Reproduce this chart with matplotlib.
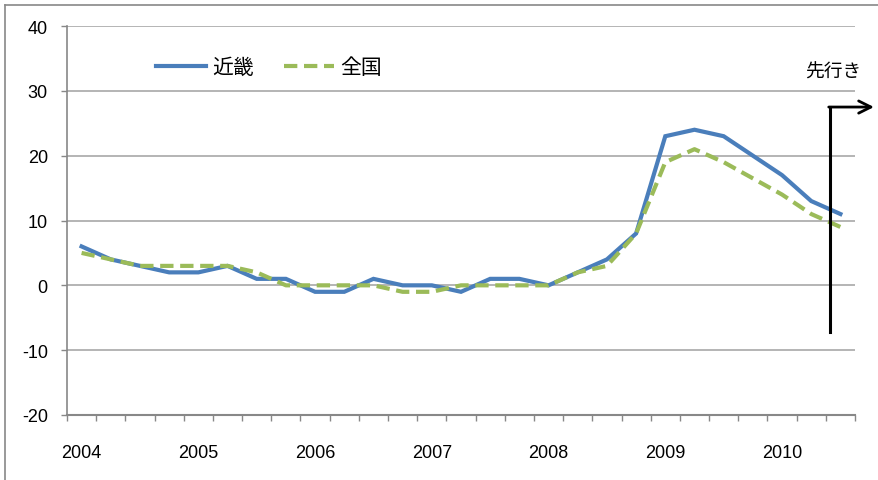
import matplotlib
matplotlib.use("Agg")
import matplotlib.pyplot as plt
from matplotlib.lines import Line2D
import numpy as np

plt.rcParams['font.family'] = ['Liberation Sans', 'Noto Sans CJK JP', 'DejaVu Sans']

# Quarterly data 2004Q1 .. 2010Q3
kinki = [6, 4, 3, 2, 2, 3, 1, 1, -1, -1, 1, 0, 0, -1, 1, 1, 0, 2, 4, 8, 23, 24, 23, 20, 17, 13, 11]
zenkoku = [5, 4, 3, 3, 3, 3, 2, 0, 0, 0, 0, -1, -1, 0, 0, 0, 0, 2, 3, 8, 19, 21, 19, 16.5, 14, 11, 9]
year_labels = ['2004', '2005', '2006', '2007', '2008', '2009', '2010']
series_names = ['近畿', '全国']
yticks = [-20, -10, 0, 10, 20, 30, 40]

W, H = 879, 481
fig = plt.figure(figsize=(W / 100, H / 100), dpi=100)
ax = fig.add_axes([67 / W, 1 - 416 / H, (855 - 67) / W, (416 - 27) / H])

x = np.arange(len(kinki))
ax.plot(x, kinki, color='#4a7ebb', lw=3, label=series_names[0], solid_joinstyle='miter', zorder=3)
ax.plot(x, zenkoku, color='#9bbb59', lw=3, ls=(0, (3.2, 1.6)), label=series_names[1], zorder=4)

ax.set_xlim(-0.5, len(kinki) - 0.5)
ax.set_ylim(-20, 40)
ax.set_yticks(yticks)
ax.set_yticklabels([str(v) for v in yticks], fontsize=13)
ax.grid(axis='y', color='#a0a0a0', lw=1.1)
ax.set_axisbelow(True)

ax.set_xticks(np.arange(0, len(kinki), 4))
ax.set_xticklabels(year_labels, fontsize=13)
ax.set_xticks(np.arange(-0.5, len(kinki), 1), minor=True)
ax.tick_params(axis='x', which='major', length=0, pad=21)
ax.tick_params(axis='x', which='minor', length=4.3, width=1, color='#888888')
ax.tick_params(axis='y', length=4.3, width=1, color='#888888', pad=9.5)

for s in ['top', 'right']:
    ax.spines[s].set_visible(False)
ax.spines['left'].set_color('#888888')
ax.spines['bottom'].set_color('#888888')
ax.spines['left'].set_linewidth(1.2)
ax.spines['bottom'].set_linewidth(1.5)

leg = ax.legend(loc='center left', bbox_to_anchor=(146 / W, 1 - 68 / H), bbox_transform=fig.transFigure,
                ncol=2, frameon=False, borderpad=0, handlelength=2.4, handletextpad=0.3,
                columnspacing=1.4, prop={'family': ['Noto Sans CJK JP'], 'size': 15})

# "先行き" arrow
ax.plot([25.64, 25.64], [-7.2, 27.5], color='black', lw=2.2, clip_on=False, zorder=5)
ax.annotate('', xy=(27.15, 27.5), xytext=(25.6, 27.5),
            arrowprops=dict(arrowstyle='->', lw=2.0, color='black', mutation_scale=22,
                            shrinkA=0, shrinkB=0), annotation_clip=False, zorder=5)
ax.text(25.75, 33.0, '先行き', fontsize=13.5, ha='center', va='center',
        family=['Noto Sans CJK JP'], clip_on=False)

# chart area border (top and left)
fig.add_artist(Line2D([5.5 / W, 1], [1 - 5.5 / H, 1 - 5.5 / H], transform=fig.transFigure, color='#888888', lw=1.2))
fig.add_artist(Line2D([5.5 / W, 5.5 / W], [0, 1 - 5.5 / H], transform=fig.transFigure, color='#888888', lw=1.2))

fig.savefig('out.png', dpi=100)
